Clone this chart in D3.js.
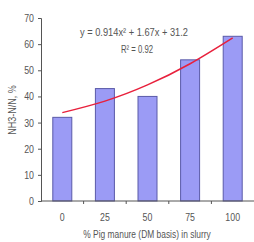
<!DOCTYPE html>
<html>
<head>
<meta charset="utf-8">
<script src="https://cdn.jsdelivr.net/npm/d3@7"></script>
<style>
  body { margin: 0; background: #fff; }
  text { font-family: "Liberation Sans", sans-serif; fill: #555; }
</style>
</head>
<body>
<div id="chart"></div>
<script>
var categories = ["0", "25", "50", "75", "100"];
var values = [32, 43, 40, 54, 63];
// trendline at each category
var trend = [33.8, 38.2, 44.4, 52.5, 62.4];
var yTicks = [0, 10, 20, 30, 40, 50, 60, 70];

var W = 254, H = 242;
var margin = { top: 18, right: 0, bottom: 41, left: 41 };

var svg = d3.select("#chart").append("svg")
  .attr("width", W)
  .attr("height", H);

// squeeze text horizontally, the original font is a narrow one
function condense(sel, f) {
  sel.each(function () {
    var len = this.getComputedTextLength();
    d3.select(this).attr("textLength", len * f).attr("lengthAdjust", "spacingAndGlyphs");
  });
}

var x = d3.scaleBand()
  .domain(categories)
  .range([margin.left, W - margin.right]);

var y = d3.scaleLinear()
  .domain([0, 70])
  .range([H - margin.bottom, margin.top]);

// bars
svg.append("g").selectAll("rect")
  .data(values)
  .enter().append("rect")
  .attr("x", function (d, i) { return x(categories[i]) + x.bandwidth() / 2 - 9.5; })
  .attr("y", function (d) { return y(d); })
  .attr("width", 19)
  .attr("height", function (d) { return y(0) - y(d); })
  .attr("fill", "#9b9bf5")
  .attr("stroke", "#5a5aa8")
  .attr("stroke-width", 1);

// y axis
var yAxis = svg.append("g")
  .attr("transform", "translate(" + margin.left + ",0)")
  .call(d3.axisLeft(y).tickValues(yTicks).tickSize(3).tickPadding(4));
yAxis.selectAll("text").style("font-size", "11px").call(condense, 0.8);

// x axis, ticks between categories
var xAxis = svg.append("g")
  .attr("transform", "translate(0," + y(0) + ")");
xAxis.append("line")
  .attr("x1", margin.left).attr("x2", W)
  .attr("stroke", "#555");
xAxis.selectAll(".tk")
  .data(categories.slice(1))
  .enter().append("line")
  .attr("x1", function (d) { return x(d); })
  .attr("x2", function (d) { return x(d); })
  .attr("y1", 0).attr("y2", 3)
  .attr("stroke", "#555");
xAxis.selectAll("text")
  .data(categories)
  .enter().append("text")
  .attr("x", function (d) { return x(d) + x.bandwidth() / 2; })
  .attr("y", 20)
  .attr("text-anchor", "middle")
  .style("font-size", "11px")
  .text(function (d) { return d; })
  .call(condense, 0.8);
svg.selectAll(".domain").attr("stroke", "#555");
svg.selectAll(".tick line").attr("stroke", "#555");

// trendline
var line = d3.line()
  .x(function (d, i) { return x(categories[i]) + x.bandwidth() / 2; })
  .y(function (d) { return y(d); })
  .curve(d3.curveNatural);
svg.append("path")
  .datum(trend)
  .attr("d", line)
  .attr("fill", "none")
  .attr("stroke", "#e8203c")
  .attr("stroke-width", 1.5);

// equation and fit
svg.append("text")
  .attr("x", 80).attr("y", 36)
  .style("font-size", "10.5px")
  .text("y = 0.914x² + 1.67x + 31.2")
  .attr("textLength", 108).attr("lengthAdjust", "spacingAndGlyphs");

svg.append("text")
  .attr("x", 121).attr("y", 53)
  .style("font-size", "10.5px")
  .text("R² = 0.92")
  .attr("textLength", 32).attr("lengthAdjust", "spacingAndGlyphs");

// axis labels
svg.append("text")
  .attr("transform", "translate(16,110) rotate(-90)")
  .attr("text-anchor", "middle")
  .style("font-size", "10px")
  .text("NH3-N/N, %")
  .call(condense, 0.9);

svg.append("text")
  .attr("x", 147).attr("y", 238)
  .attr("text-anchor", "middle")
  .style("font-size", "10.5px")
  .text("% Pig manure (DM basis) in slurry")
  .call(condense, 0.8);
</script>
</body>
</html>
